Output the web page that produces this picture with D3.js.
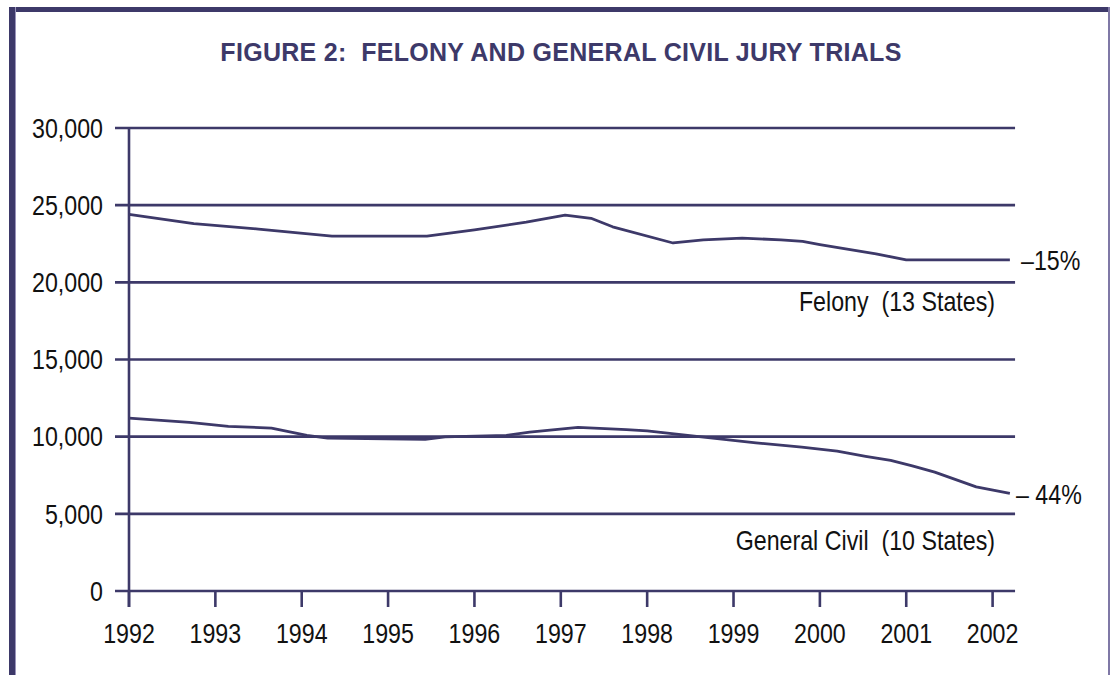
<!DOCTYPE html>
<html>
<head>
<meta charset="utf-8">
<script src="https://cdn.jsdelivr.net/npm/d3@7"></script>
<style>
  html, body { margin: 0; padding: 0; background: #fff; }
  svg { display: block; }
  text { white-space: pre; }
  .lbl { font-family: "Liberation Sans", Arial, sans-serif; fill: #111; font-size: 27px; }
</style>
</head>
<body>
<svg id="chart" width="1111" height="675"></svg>
<script>
// ---- data ----
const title = "FIGURE 2:  FELONY AND GENERAL CIVIL JURY TRIALS";
const yearTicks = [1992, 1993, 1994, 1995, 1996, 1997, 1998, 1999, 2000, 2001, 2002];
const valueTicks = [0, 5000, 10000, 15000, 20000, 25000, 30000];

const felonyYears  = [1992.0, 1992.75, 1993.5, 1994.35, 1995.45, 1996.0, 1996.6, 1997.05, 1997.35, 1997.6, 1998.3, 1998.65, 1999.1, 1999.55, 1999.8, 2000.0, 2000.65, 2001.0, 2002.2];
const felonyValues = [24400, 23800, 23450, 23000, 23000, 23400, 23900, 24350, 24150, 23600, 22550, 22750, 22870, 22750, 22650, 22450, 21850, 21450, 21450];

const civilYears  = [1992.0, 1992.7, 1993.15, 1993.65, 1994.06, 1994.3, 1995.43, 1995.66, 1996.37, 1996.64, 1997.2, 1997.76, 1998.0, 1998.6, 1999.26, 1999.79, 2000.2, 2000.53, 2000.82, 2001.07, 2001.33, 2001.81, 2002.2];
const civilValues = [11200, 10920, 10670, 10560, 10080, 9900, 9820, 9980, 10080, 10290, 10600, 10460, 10370, 10000, 9600, 9320, 9060, 8730, 8470, 8110, 7700, 6750, 6320];

const felonyLabel = "Felony  (13 States)";
const civilLabel = "General Civil  (10 States)";
const felonyChange = "\u201315%";
const civilChange = "\u2013 44%";

// ---- drawing ----
const purple = "#3d3969";
const svg = d3.select("#chart");
const SX = 0.86; // horizontal condensing of label font

// frame
svg.append("rect").attr("x", 9).attr("y", 7).attr("width", 1100).attr("height", 5).attr("fill", purple);
svg.append("rect").attr("x", 9).attr("y", 7).attr("width", 6).attr("height", 668).attr("fill", purple);
svg.append("rect").attr("x", 15).attr("y", 7).attr("width", 1).attr("height", 668).attr("fill", "#9a94bb");
svg.append("rect").attr("x", 1108).attr("y", 7).attr("width", 2).attr("height", 668).attr("fill", "#7f78a6");

svg.append("text")
  .attr("x", 561).attr("y", 61)
  .attr("text-anchor", "middle")
  .attr("font-family", "'Liberation Sans', Arial, sans-serif")
  .attr("font-weight", "bold")
  .attr("font-size", 25)
  .attr("letter-spacing", 0.3)
  .attr("fill", purple)
  .text(title);

const x = d3.scaleLinear().domain([1992, 2002]).range([129, 992.6]);
const y = d3.scaleLinear().domain([0, 30000]).range([591, 128]);

const gridLeft = 115, gridRight = x(2002.26);

function label(tx, ty, anchor, str, dy) {
  return svg.append("text").attr("class", "lbl")
    .attr("transform", `translate(${tx},${ty}) scale(${SX},1)`)
    .attr("text-anchor", anchor)
    .attr("dy", dy || 0)
    .text(str);
}

// gridlines
svg.append("g").selectAll("line").data(valueTicks).join("line")
  .attr("x1", gridLeft).attr("x2", gridRight)
  .attr("y1", d => y(d)).attr("y2", d => y(d))
  .attr("stroke", purple).attr("stroke-width", 2.6);

// y labels
valueTicks.forEach(v => label(103, y(v), "end", d3.format(",")(v), "0.36em"));

// y axis vertical line
svg.append("line")
  .attr("x1", x(1992)).attr("x2", x(1992))
  .attr("y1", y(30000)).attr("y2", y(0) + 16)
  .attr("stroke", purple).attr("stroke-width", 2.6);

// x ticks
svg.append("g").selectAll("line").data(yearTicks).join("line")
  .attr("x1", d => x(d)).attr("x2", d => x(d))
  .attr("y1", y(0)).attr("y2", y(0) + 16)
  .attr("stroke", purple).attr("stroke-width", 2.6);

yearTicks.forEach(t => label(x(t), 643, "middle", String(t)));

// series
const line = d3.line().x(d => x(d[0])).y(d => y(d[1]));
const felony = felonyYears.map((t, i) => [t, felonyValues[i]]);
const civil = civilYears.map((t, i) => [t, civilValues[i]]);

[felony, civil].forEach(s => {
  svg.append("path").datum(s)
    .attr("d", line)
    .attr("fill", "none")
    .attr("stroke", purple)
    .attr("stroke-width", 2.8)
    .attr("stroke-linejoin", "round");
});

// labels
label(995, 311, "end", felonyLabel);
label(995, 550, "end", civilLabel);

const fEnd = felony[felony.length - 1], cEnd = civil[civil.length - 1];
label(1021, y(fEnd[1]), "start", felonyChange, "0.38em");
label(1016, y(cEnd[1]), "start", civilChange, "0.38em");
</script>
</body>
</html>
